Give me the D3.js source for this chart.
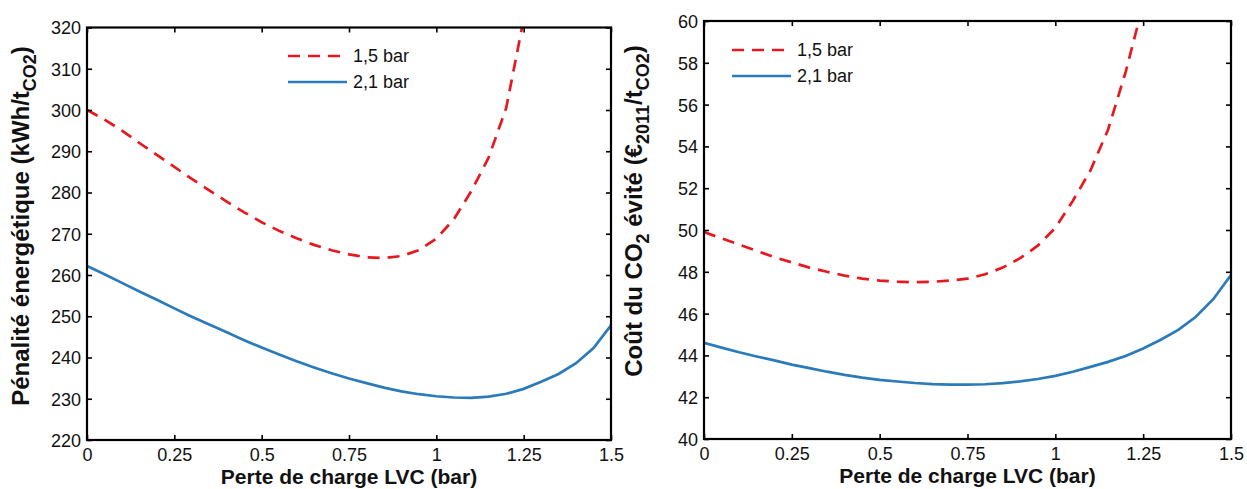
<!DOCTYPE html>
<html>
<head>
<meta charset="utf-8">
<script src="https://cdn.jsdelivr.net/npm/d3@7"></script>
<style>
  html, body { margin: 0; padding: 0; background: #fff; }
  svg { display: block; font-family: "Liberation Sans", Arial, sans-serif; }
</style>
</head>
<body>
<svg id="chart" width="1247" height="489"></svg>
<script>
// ---------- data ----------
const xValues = [0,0.05,0.1,0.15,0.2,0.25,0.3,0.35,0.4,0.45,0.5,0.55,0.6,0.65,0.7,0.75,0.8,0.85,0.9,0.95,1.0,1.05,1.1,1.15,1.2,1.25,1.3,1.35,1.4,1.45,1.5];

// Left: Pénalité énergétique (kWh/tCO2)
const penalty15 = [300,297.7,295.0,292.0,289.1,286.2,283.3,280.5,277.8,275.2,272.8,270.7,268.9,267.3,266.0,265.0,264.3,264.1,264.6,266.0,268.8,273.5,280.3,288.5,300.5,322.0];
const penalty21 = [262.2,260.2,258.1,256.0,254.0,251.9,249.9,248.0,246.1,244.2,242.4,240.7,239.1,237.6,236.2,234.9,233.8,232.7,231.8,231.1,230.6,230.3,230.2,230.5,231.2,232.4,234.1,236.0,238.6,242.3,247.8];

// Right: Coût du CO2 évité (€2011/tCO2)
const cost15 = [49.9,49.6,49.3,49.0,48.7,48.45,48.2,48.0,47.82,47.67,47.58,47.53,47.5,47.52,47.58,47.67,47.88,48.2,48.65,49.25,50.1,51.4,52.85,54.8,57.55,60.8];
const cost21 = [44.6,44.37,44.15,43.95,43.76,43.56,43.39,43.22,43.07,42.94,42.83,42.75,42.68,42.63,42.6,42.6,42.62,42.67,42.76,42.87,43.02,43.22,43.45,43.69,43.97,44.33,44.75,45.22,45.85,46.7,47.85];

const xTicks = [0,0.25,0.5,0.75,1,1.25,1.5];
const xTickLabels = ["0","0.25","0.5","0.75","1","1.25","1.5"];
const penaltyTicks = [220,230,240,250,260,270,280,290,300,310,320];
const costTicks = [40,42,44,46,48,50,52,54,56,58,60];
const seriesNames = ["1,5 bar","2,1 bar"];
const xTitle = "Perte de charge LVC (bar)";

// ---------- drawing ----------
const RED = "#e5191f", BLUE = "#2b7bba";
const DASH = "12,8";
const svg = d3.select("#chart");

function panel(opts) {
  const {id, left, right, top, bottom, yDomain, yTicks, s1, s2, legendX, legendY, yTitleParts, yTitleX, yTitleY} = opts;
  const x = d3.scaleLinear().domain([0,1.5]).range([left,right]);
  const y = d3.scaleLinear().domain(yDomain).range([bottom,top]);
  const g = svg.append("g");

  g.append("clipPath").attr("id", id).append("rect")
    .attr("x", left).attr("y", top).attr("width", right-left).attr("height", bottom-top);

  const line = d3.line().x((d,i)=>x(xValues[i])).y(d=>y(d));
  g.append("path").datum(s1).attr("clip-path", `url(#${id})`)
    .attr("d", line).attr("fill","none").attr("stroke",RED)
    .attr("stroke-width",2.7).attr("stroke-dasharray",DASH);
  g.append("path").datum(s2).attr("clip-path", `url(#${id})`)
    .attr("d", line).attr("fill","none").attr("stroke",BLUE)
    .attr("stroke-width",2.7);

  // axes (inward ticks)
  const tickLen = 5;
  const bx = g.append("g").attr("transform",`translate(0,${bottom})`)
    .call(d3.axisBottom(x).tickValues(xTicks).tickFormat((d,i)=>xTickLabels[i]).tickSizeInner(-tickLen).tickSizeOuter(0).tickPadding(8));
  const tx = g.append("g").attr("transform",`translate(0,${top})`)
    .call(d3.axisTop(x).tickValues(xTicks).tickFormat("").tickSizeInner(-tickLen).tickSizeOuter(0));
  const ly = g.append("g").attr("transform",`translate(${left},0)`)
    .call(d3.axisLeft(y).tickValues(yTicks).tickSizeInner(-tickLen).tickSizeOuter(0).tickPadding(6));
  const ry = g.append("g").attr("transform",`translate(${right},0)`)
    .call(d3.axisRight(y).tickValues(yTicks).tickFormat("").tickSizeInner(-tickLen).tickSizeOuter(0));
  [bx,tx,ly,ry].forEach(a=>{
    a.select(".domain").remove();
    a.selectAll(".tick line").attr("stroke","#000").attr("stroke-width",1.6);
    a.selectAll("text").attr("font-size",18).attr("fill","#111").attr("font-family","Liberation Sans, Arial, sans-serif");
  });
  ly.selectAll("text").attr("dy","0.36em");

  // frame
  g.append("rect").attr("x",left).attr("y",top).attr("width",right-left).attr("height",bottom-top)
    .attr("fill","none").attr("stroke","#000").attr("stroke-width",2.2);

  // x title
  g.append("text").attr("x",(left+right)/2).attr("y",bottom+44)
    .attr("text-anchor","middle").attr("font-size",21).attr("font-weight","bold").attr("fill","#111")
    .text(xTitle);

  // y title
  const yt = g.append("text")
    .attr("transform",`translate(${yTitleX},${yTitleY}) rotate(-90)`)
    .attr("text-anchor","middle").attr("font-size",24).attr("font-weight","bold").attr("fill","#111");
  yTitleParts.forEach(p=>{
    const t = yt.append("tspan").text(p.t);
    if (p.sub) t.attr("font-size",18).attr("dy","7");
    if (p.up) t.attr("dy","-7");
  });

  // legend
  const leg = g.append("g");
  [[RED,DASH,seriesNames[0]],[BLUE,null,seriesNames[1]]].forEach((d,i)=>{
    const yy = legendY + i*26;
    leg.append("line").attr("x1",legendX).attr("x2",legendX+59).attr("y1",yy).attr("y2",yy)
      .attr("stroke",d[0]).attr("stroke-width",2.7).attr("stroke-dasharray",d[1]);
    leg.append("text").attr("x",legendX+65).attr("y",yy).attr("dy","0.36em")
      .attr("font-size",18).attr("fill","#111").text(d[2]);
  });
}

panel({
  id:"clipL", left:87, right:611, top:27.5, bottom:440,
  yDomain:[220,320], yTicks:penaltyTicks, s1:penalty15, s2:penalty21,
  legendX:288, legendY:56, yTitleX:29, yTitleY:226,
  yTitleParts:[{t:"Pénalité énergétique (kWh/t"},{t:"CO2",sub:true},{t:")",up:true}]
});
panel({
  id:"clipR", left:704, right:1231, top:21, bottom:439,
  yDomain:[40,60], yTicks:costTicks, s1:cost15, s2:cost21,
  legendX:732, legendY:50, yTitleX:642, yTitleY:211,
  yTitleParts:[{t:"Coût du CO"},{t:"2",sub:true},{t:" évité (€",up:true},{t:"2011",sub:true},{t:"/t",up:true},{t:"CO2",sub:true},{t:")",up:true}]
});
</script>
</body>
</html>
